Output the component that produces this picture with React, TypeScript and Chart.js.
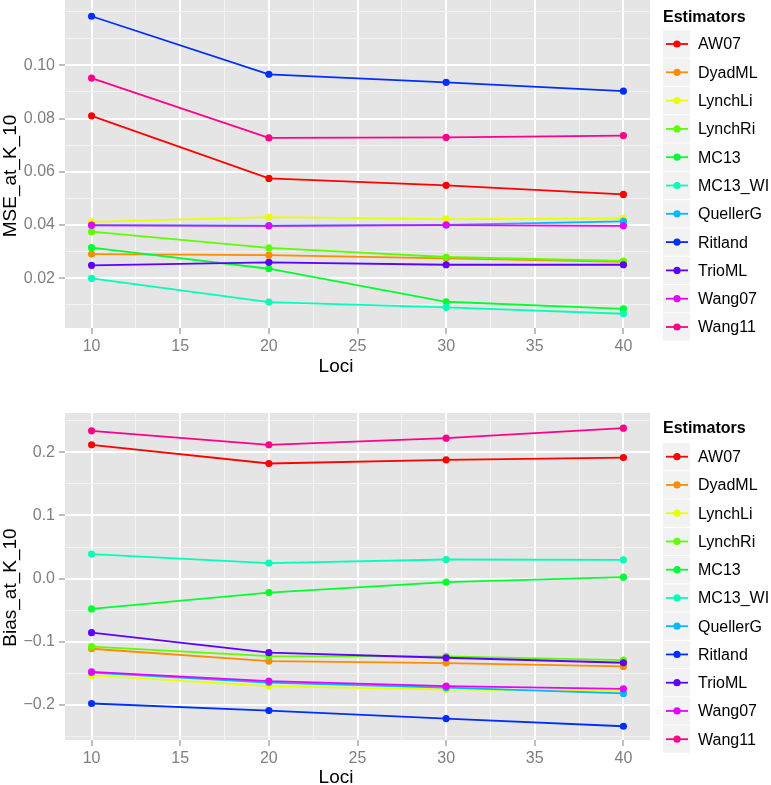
import React, { useEffect, useRef } from "react";
import { Chart, registerables } from "chart.js";

Chart.register(...registerables);

// ---------- data ----------
const loci = [10, 20, 30, 40];
const estimators = ["AW07", "DyadML", "LynchLi", "LynchRi", "MC13", "MC13_WI", "QuellerG", "Ritland", "TrioML", "Wang07", "Wang11"];
const colors = ["#FF0000", "#FF8B00", "#E8FF00", "#5DFF00", "#00FF2E", "#00FFB9", "#00B9FF", "#002EFF", "#5D00FF", "#E800FF", "#FF008B"];

// MSE_at_K_10
const mseAW07 = [0.081, 0.0575, 0.0549, 0.0515];
const mseDyadML = [0.0291, 0.0287, 0.0275, 0.0262];
const mseLynchLi = [0.0412, 0.043, 0.0422, 0.0425];
const mseLynchRi = [0.0375, 0.0314, 0.028, 0.0265];
const mseMC13 = [0.0315, 0.0236, 0.0112, 0.0085];
const mseMC13WI = [0.02, 0.0111, 0.0091, 0.0067];
const mseQuellerG = [0.04, 0.0398, 0.0401, 0.0414];
const mseRitland = [0.1184, 0.0966, 0.0936, 0.0903];
const mseTrioML = [0.0249, 0.026, 0.0251, 0.0251];
const mseWang07 = [0.0399, 0.0397, 0.04, 0.0397];
const mseWang11 = [0.0952, 0.0727, 0.0729, 0.0736];

// Bias_at_K_10
const biasAW07 = [0.2121, 0.1824, 0.1882, 0.1919];
const biasDyadML = [-0.1113, -0.1308, -0.134, -0.1393];
const biasLynchLi = [-0.1536, -0.1706, -0.1759, -0.178];
const biasLynchRi = [-0.1081, -0.1229, -0.1234, -0.1293];
const biasMC13 = [-0.0482, -0.0223, -0.0058, 0.0022];
const biasMC13WI = [0.0388, 0.0245, 0.0302, 0.0297];
const biasQuellerG = [-0.149, -0.165, -0.173, -0.1822];
const biasRitland = [-0.1981, -0.2093, -0.222, -0.2342];
const biasTrioML = [-0.0858, -0.1176, -0.1256, -0.1335];
const biasWang07 = [-0.1479, -0.1626, -0.1706, -0.1749];
const biasWang11 = [0.2343, 0.2121, 0.2226, 0.2385];

const mseSeries = [mseAW07, mseDyadML, mseLynchLi, mseLynchRi, mseMC13, mseMC13WI, mseQuellerG, mseRitland, mseTrioML, mseWang07, mseWang11];
const biasSeries = [biasAW07, biasDyadML, biasLynchLi, biasLynchRi, biasMC13, biasMC13WI, biasQuellerG, biasRitland, biasTrioML, biasWang07, biasWang11];

// ticks (majors have labels, minors are empty)
const xTicks = [10, 12.5, 15, 17.5, 20, 22.5, 25, 27.5, 30, 32.5, 35, 37.5, 40];
const xLabels = ["10", "", "15", "", "20", "", "25", "", "30", "", "35", "", "40"];
const mseTicks = [0.01, 0.02, 0.03, 0.04, 0.05, 0.06, 0.07, 0.08, 0.09, 0.1, 0.11, 0.12];
const mseLabels = ["", "0.02", "", "0.04", "", "0.06", "", "0.08", "", "0.10", "", ""];
const biasTicks = [-0.25, -0.2, -0.15, -0.1, -0.05, 0, 0.05, 0.1, 0.15, 0.2, 0.25];
const biasLabels = ["", "\u22120.2", "", "\u22120.1", "", "0.0", "", "0.1", "", "0.2", ""];

const FONT = "'Liberation Sans', Arial, Helvetica, sans-serif";

type PanelCfg = {
  height: number;
  padTop: number;
  xAxisHeight: number;
  yMin: number;
  yMax: number;
  yTicks: number[];
  yLabels: string[];
  series: number[][];
  yTitle: string;
  yTitleCenter: number;
  xTitleBaseline: number;
  legendTitleY: number;
  legendFirstY: number;
  legendStep: number;
};

function Panel({ cfg }: { cfg: PanelCfg }) {
  const ref = useRef<HTMLCanvasElement | null>(null);
  useEffect(() => {
    if (!ref.current) return;
    const datasets = estimators.map((name, i) => ({
      label: name,
      data: loci.map((x, j) => ({ x, y: cfg.series[i][j] })),
      borderColor: colors[i],
      backgroundColor: colors[i],
      pointBackgroundColor: colors[i],
      pointBorderWidth: 0,
      pointRadius: 3.6,
      borderWidth: 1.8,
      order: estimators.length - i,
      clip: false as any,
    }));

    const decor = {
      id: "decor",
      beforeDraw(chart: any) {
        const { ctx, chartArea: a } = chart;
        ctx.save();
        ctx.fillStyle = "#E5E5E5";
        ctx.fillRect(a.left, a.top, a.right - a.left, a.bottom - a.top);
        ctx.restore();
      },
      afterDraw(chart: any) {
        const { ctx } = chart;
        ctx.save();
        // axis titles
        ctx.fillStyle = "#000";
        ctx.font = `19px ${FONT}`;
        ctx.textAlign = "center";
        ctx.textBaseline = "alphabetic";
        ctx.fillText("Loci", 336, cfg.xTitleBaseline);
        ctx.save();
        ctx.translate(16, cfg.yTitleCenter);
        ctx.rotate(-Math.PI / 2);
        ctx.fillText(cfg.yTitle, 0, 0);
        ctx.restore();
        // legend
        ctx.textAlign = "left";
        ctx.textBaseline = "middle";
        ctx.font = `bold 16px ${FONT}`;
        ctx.fillText("Estimators", 663, cfg.legendTitleY);
        ctx.font = `16px ${FONT}`;
        estimators.forEach((name, i) => {
          const cy = cfg.legendFirstY + i * cfg.legendStep;
          ctx.fillStyle = "#F2F2F2";
          ctx.fillRect(663, cy - cfg.legendStep / 2 + 0.5, 27, cfg.legendStep - 1);
          ctx.strokeStyle = colors[i];
          ctx.lineWidth = 1.8;
          ctx.beginPath();
          ctx.moveTo(666, cy);
          ctx.lineTo(688, cy);
          ctx.stroke();
          ctx.fillStyle = colors[i];
          ctx.beginPath();
          ctx.arc(677, cy, 3.6, 0, Math.PI * 2);
          ctx.fill();
          ctx.fillStyle = "#000";
          ctx.fillText(name, 698, cy + 1);
        });
        ctx.restore();
      },
    };

    const zeroPad = (scale: any) => {
      scale.paddingTop = 0;
      scale.paddingBottom = 0;
      scale.paddingLeft = 0;
      scale.paddingRight = 0;
    };

    const chart = new Chart(ref.current, {
      type: "line",
      data: { datasets: datasets as any },
      options: {
        animation: false,
        responsive: false,
        events: [],
        layout: { autoPadding: false, padding: { top: cfg.padTop, right: 121, left: 0, bottom: 0 } },
        plugins: { legend: { display: false }, tooltip: { enabled: false } },
        scales: {
          x: {
            type: "linear",
            min: 8.5,
            max: 41.5,
            border: { display: false },
            afterBuildTicks: (s: any) => {
              s.ticks = xTicks.map((v) => ({ value: v }));
            },
            afterFit: (s: any) => {
              s.height = cfg.xAxisHeight;
              zeroPad(s);
            },
            grid: {
              color: (c: any) => (xLabels[c.index] ? "#FFFFFF" : "#F2F2F2"),
              lineWidth: (c: any) => (xLabels[c.index] ? 2 : 1),
              tickColor: (c: any) => (xLabels[c.index] ? "#7F7F7F" : "rgba(0,0,0,0)"),
              tickWidth: 1,
              tickLength: 6,
              drawTicks: true,
            },
            ticks: {
              autoSkip: false,
              maxRotation: 0,
              padding: 3,
              color: "#7F7F7F",
              font: { family: FONT, size: 16 },
              callback: (_v: any, i: number) => xLabels[i],
            },
          },
          y: {
            type: "linear",
            min: cfg.yMin,
            max: cfg.yMax,
            border: { display: false },
            afterBuildTicks: (s: any) => {
              s.ticks = cfg.yTicks.map((v) => ({ value: v }));
            },
            afterFit: (s: any) => {
              s.width = 65;
              zeroPad(s);
            },
            grid: {
              color: (c: any) => (cfg.yLabels[c.index] ? "#FFFFFF" : "#F2F2F2"),
              lineWidth: (c: any) => (cfg.yLabels[c.index] ? 2 : 1),
              tickColor: (c: any) => (cfg.yLabels[c.index] ? "#7F7F7F" : "rgba(0,0,0,0)"),
              tickWidth: 1,
              tickLength: 6,
              drawTicks: true,
            },
            ticks: {
              autoSkip: false,
              padding: 4,
              color: "#7F7F7F",
              font: { family: FONT, size: 16 },
              callback: (_v: any, i: number) => cfg.yLabels[i],
            },
          },
        },
      },
      plugins: [decor],
    });
    return () => chart.destroy();
  }, [cfg]);
  return <canvas ref={ref} width={771} height={cfg.height} style={{ display: "block" }} />;
}

const topCfg: PanelCfg = {
  height: 390,
  padTop: 0,
  xAxisHeight: 62,
  yMin: 0.00135,
  yMax: 0.1245,
  yTicks: mseTicks,
  yLabels: mseLabels,
  series: mseSeries,
  yTitle: "MSE_at_K_10",
  yTitleCenter: 176,
  xTitleBaseline: 372,
  legendTitleY: 18,
  legendFirstY: 44,
  legendStep: 28.3,
};

const bottomCfg: PanelCfg = {
  height: 395,
  padTop: 23,
  xAxisHeight: 45,
  yMin: -0.256,
  yMax: 0.2625,
  yTicks: biasTicks,
  yLabels: biasLabels,
  series: biasSeries,
  yTitle: "Bias_at_K_10",
  yTitleCenter: 197.5,
  xTitleBaseline: 393,
  legendTitleY: 39,
  legendFirstY: 66.7,
  legendStep: 28.25,
};

export default function App() {
  return (
    <div style={{ position: "absolute", left: 0, top: 0, width: 771, height: 785, background: "#fff" }}>
      <Panel cfg={topCfg} />
      <Panel cfg={bottomCfg} />
    </div>
  );
}
